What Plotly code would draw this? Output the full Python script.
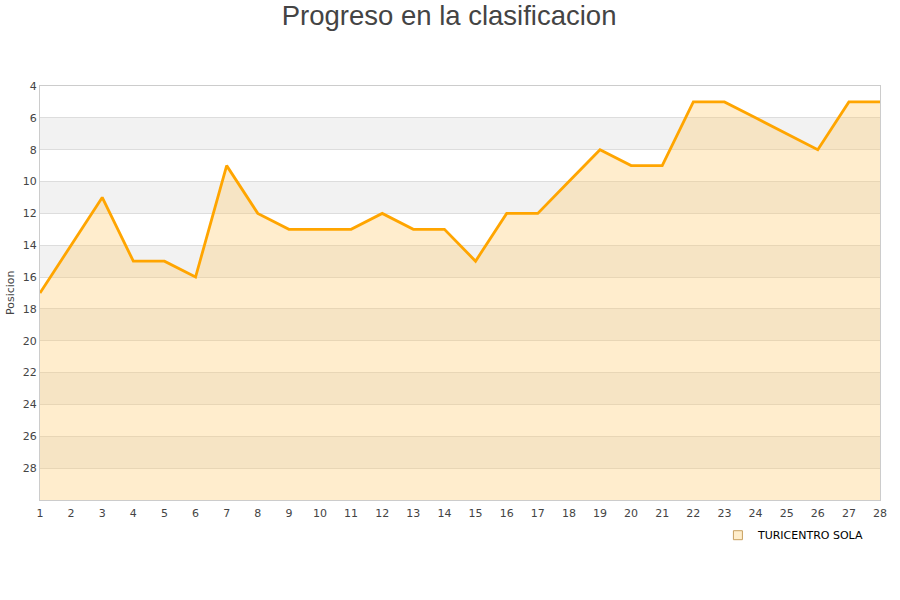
import plotly.graph_objects as go

jornadas = list(range(1, 29))
posicion = [17, 14, 11, 15, 15, 16, 9, 12, 13, 13, 13, 12, 13, 13, 15, 12, 12, 10, 8, 9, 9, 5, 5, 6, 7, 8, 5, 5]
y_ticks = [4, 6, 8, 10, 12, 14, 16, 18, 20, 22, 24, 26, 28]
y_min, y_max = 4, 30
team = "TURICENTRO SOLA"

fig = go.Figure()

# baseline at bottom of axis for the filled area
fig.add_trace(go.Scatter(x=jornadas, y=[y_max] * len(jornadas), mode="lines",
                         line=dict(width=0, color="rgba(0,0,0,0)"),
                         showlegend=False, hoverinfo="skip"))
fig.add_trace(go.Scatter(x=jornadas, y=posicion, mode="lines", name=team,
                         line=dict(color="#FFA500", width=2.8),
                         fill="tonexty", fillcolor="rgba(255,200,100,0.32)",
                         showlegend=False))
# legend entry
fig.add_trace(go.Scatter(x=[None], y=[None], mode="markers", name=team,
                         marker=dict(symbol="square", size=9, color="#FFEECC",
                                     line=dict(color="#C8A060", width=1))))

shapes = []
for i, t in enumerate(y_ticks):
    if i % 2 == 1:
        shapes.append(dict(type="rect", xref="paper", yref="y", x0=0, x1=1,
                           y0=t, y1=t + 2, fillcolor="#f2f2f2", line=dict(width=0),
                           layer="below"))

fig.update_layout(
    width=900, height=600,
    paper_bgcolor="white", plot_bgcolor="white",
    margin=dict(l=40, r=20, t=86, b=100),
    title=dict(text="Progreso en la clasificacion", x=0.499, xanchor="center",
               y=0.975, yanchor="middle",
               font=dict(family="Liberation Sans, Arial", size=27.5, color="#444444")),
    font=dict(family="DejaVu Sans", size=11, color="#444444"),
    shapes=shapes,
    showlegend=True,
    legend=dict(orientation="h", x=0.988, xanchor="right", y=-0.05, yanchor="top",
                font=dict(family="DejaVu Sans", size=11, color="#000000"),
                bgcolor="rgba(0,0,0,0)", itemwidth=30),
    annotations=[dict(text="Posicion", xref="paper", yref="paper",
                      x=-30 / 840, y=0.5, xanchor="center", yanchor="middle",
                      textangle=-90, showarrow=False,
                      font=dict(size=11, color="#444444"))],
    xaxis=dict(range=[1, 28], tickmode="array", tickvals=jornadas,
               ticktext=[str(j) for j in jornadas], showgrid=False,
               showline=True, linecolor="#cccccc", linewidth=1, mirror=True,
               ticks="", zeroline=False, automargin=False, ticklabelstandoff=3,
               tickfont=dict(size=11, color="#444444")),
    yaxis=dict(range=[y_max, y_min], tickmode="array", tickvals=y_ticks,
               showgrid=True, gridcolor="#dddddd", gridwidth=1,
               showline=True, linecolor="#cccccc", linewidth=1, mirror=True,
               ticks="", zeroline=False, automargin=False,
               tickfont=dict(size=11, color="#444444")),
)

fig.write_html("out.html", config={"displayModeBar": False},
               post_script="document.body.style.margin='0px';")
